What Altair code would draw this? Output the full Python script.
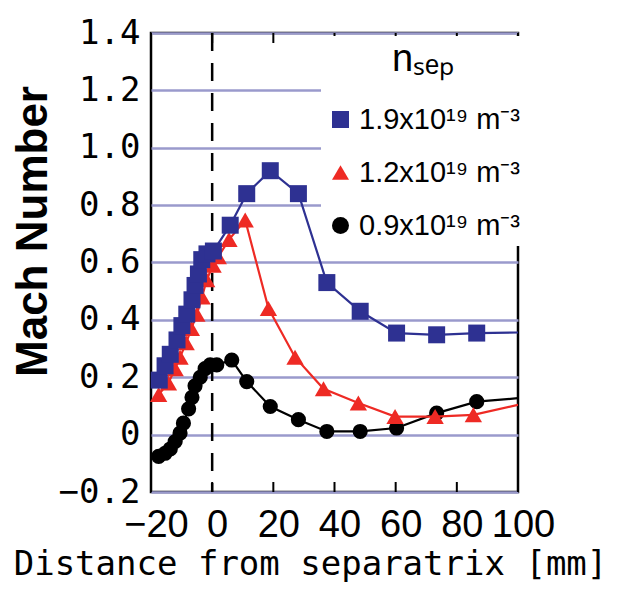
import altair as alt
import pandas as pd

# ---- data ----
labels = ["1.9x10¹⁹ m⁻³", "1.2x10¹⁹ m⁻³", "0.9x10¹⁹ m⁻³"]
colors = ["#2e3192", "#ee2a24", "#000000"]
shapes = ["square", "triangle-up", "circle"]

blue_x = [-17.3, -15.4, -13.7, -11.5, -9.9, -8.3, -6.6, -5.6, -4.5, -3.4, -1.7, 0.4,
          5.9, 11.3, 19.0, 28.2, 37.5, 48.4, 60.3, 73.4, 86.5]
blue_y = [0.19, 0.24, 0.28, 0.33, 0.38, 0.42, 0.47, 0.52, 0.56, 0.61, 0.63, 0.64,
          0.73, 0.84, 0.92, 0.84, 0.53, 0.43, 0.354, 0.348, 0.354]

red_x = [-17.5, -14.3, -12.1, -10.5, -8.5, -6.8, -5.0, -3.3, -1.8, 0.3, 2.0, 5.5,
         10.8, 18.4, 27.1, 36.4, 47.8, 59.8, 72.9, 85.4]
red_y = [0.14, 0.18, 0.23, 0.27, 0.32, 0.37, 0.42, 0.48, 0.54, 0.59, 0.62, 0.68,
         0.748, 0.44, 0.27, 0.16, 0.11, 0.063, 0.063, 0.069]

black_x = [-17.5, -15.4, -13.7, -12.1, -10.5, -9.4, -7.7, -6.6, -5.6, -3.9, -2.3, -0.65,
           1.5, 6.4, 11.3, 19.0, 28.2, 37.5, 48.4, 60.3, 73.4, 86.5]
black_y = [-0.076, -0.065, -0.05, -0.024, 0.005, 0.04, 0.09, 0.13, 0.17, 0.20, 0.23, 0.243,
           0.243, 0.26, 0.185, 0.098, 0.052, 0.011, 0.011, 0.023, 0.075, 0.115]

# lines continue to the right edge of the frame
end_x = 100
end_y = [0.356, 0.104, 0.127]

x_ticks = [-20, 0, 20, 40, 60, 80, 100]
y_ticks = [-0.2, 0, 0.2, 0.4, 0.6, 0.8, 1.0, 1.2, 1.4]
sep_line = [0]

W, H = 367, 459

series = [(labels[0], blue_x, blue_y, end_y[0], colors[0]),
          (labels[1], red_x, red_y, end_y[1], colors[1]),
          (labels[2], black_x, black_y, end_y[2], colors[2])]

x_scale = alt.Scale(domain=[-20, 100], nice=False, zero=False)
y_scale = alt.Scale(domain=[-0.2, 1.4], nice=False, zero=False)

x_axis = alt.Axis(values=x_ticks, ticks=False, domain=False, grid=False,
                  labelFont="Liberation Sans", labelFontSize=38, labelColor="black",
                  labelBaseline="alphabetic", labelPadding=44, labelOffset=5,
                  labelFlush=False, labelOverlap=False,
                  title="Distance from separatrix [mm]", titleFont="DejaVu Sans Mono",
                  titleFontSize=34, titleFontWeight="normal", titleColor="black",
                  titleX=159, titleY=82, titleBaseline="alphabetic", titleAlign="center")

y_axis = alt.Axis(values=y_ticks, ticks=False, domain=False, grid=True,
                  gridColor="#9a9acc", gridWidth=2.5,
                  labelFont="DejaVu Sans Mono", labelFontSize=34, labelColor="black",
                  labelPadding=11, labelOverlap=False, labelFlush=False,
                  labelExpr="datum.value == 0 ? '0' : format(datum.value, '.1f')",
                  title="Mach Number", titleFont="Liberation Sans", titleFontSize=44,
                  titleFontWeight="bold", titleColor="black", titleAngle=270,
                  titleX=-105, titleY=198, titleBaseline="alphabetic", titleAlign="center")

legend = alt.Legend(title="nₛₑₚ", orient="none", legendX=170, legendY=3,
                    fillColor="white", padding=5, symbolSize=289, symbolStrokeWidth=0,
                    symbolOpacity=1, labelFont="Liberation Sans", labelFontSize=29,
                    labelColor="black", labelLimit=400, labelOffset=4,
                    titleFont="Liberation Sans", titleFontSize=38, titleFontWeight="normal",
                    titleColor="black", titleAnchor="middle", titlePadding=26, rowPadding=23)

color_scale = alt.Scale(domain=labels, range=colors)
shape_scale = alt.Scale(domain=labels, range=shapes)

layers = []

# vertical dashed separatrix line
layers.append(
    alt.Chart(pd.DataFrame({"x": sep_line})).mark_rule(
        color="black", strokeWidth=2.5, strokeDash=[18, 12]
    ).encode(x=alt.X("x:Q", scale=x_scale, axis=x_axis))
)

# inward ticks on top and bottom
tick_df = pd.DataFrame({"x": x_ticks})
layers.append(alt.Chart(tick_df).mark_rule(color="black", strokeWidth=2).encode(
    x=alt.X("x:Q", scale=x_scale), y=alt.value(0), y2=alt.value(10)))
layers.append(alt.Chart(tick_df).mark_rule(color="black", strokeWidth=2).encode(
    x=alt.X("x:Q", scale=x_scale), y=alt.value(H - 10), y2=alt.value(H)))

# draw order: black bottom, red, blue on top
for name, xs, ys, ye, col in reversed(series):
    line_df = pd.DataFrame({"x": xs + [end_x], "y": ys + [ye]})
    pts_df = pd.DataFrame({"x": xs, "y": ys, "series": [name] * len(xs)})
    layers.append(alt.Chart(line_df).mark_line(color=col, strokeWidth=2.2, clip=True).encode(
        x=alt.X("x:Q", scale=x_scale),
        y=alt.Y("y:Q", scale=y_scale, axis=y_axis),
        order="x:Q"))
    size = 289 if name == labels[0] else (300 if name == labels[1] else 230)
    layers.append(alt.Chart(pts_df).mark_point(filled=True, opacity=1, size=size,
                                               strokeWidth=0).encode(
        x=alt.X("x:Q", scale=x_scale),
        y=alt.Y("y:Q", scale=y_scale),
        color=alt.Color("series:N", scale=color_scale, legend=legend),
        shape=alt.Shape("series:N", scale=shape_scale, legend=legend)))

chart = alt.layer(*layers).properties(
    width=W, height=H,
    autosize=alt.AutoSizeParams(type="none"),
    padding={"left": 143, "top": 25, "right": 93, "bottom": 91},
    background="white",
).configure_view(stroke="black", strokeWidth=2.5)

chart.save("out.html", embed_options={"renderer": "svg", "actions": False})
